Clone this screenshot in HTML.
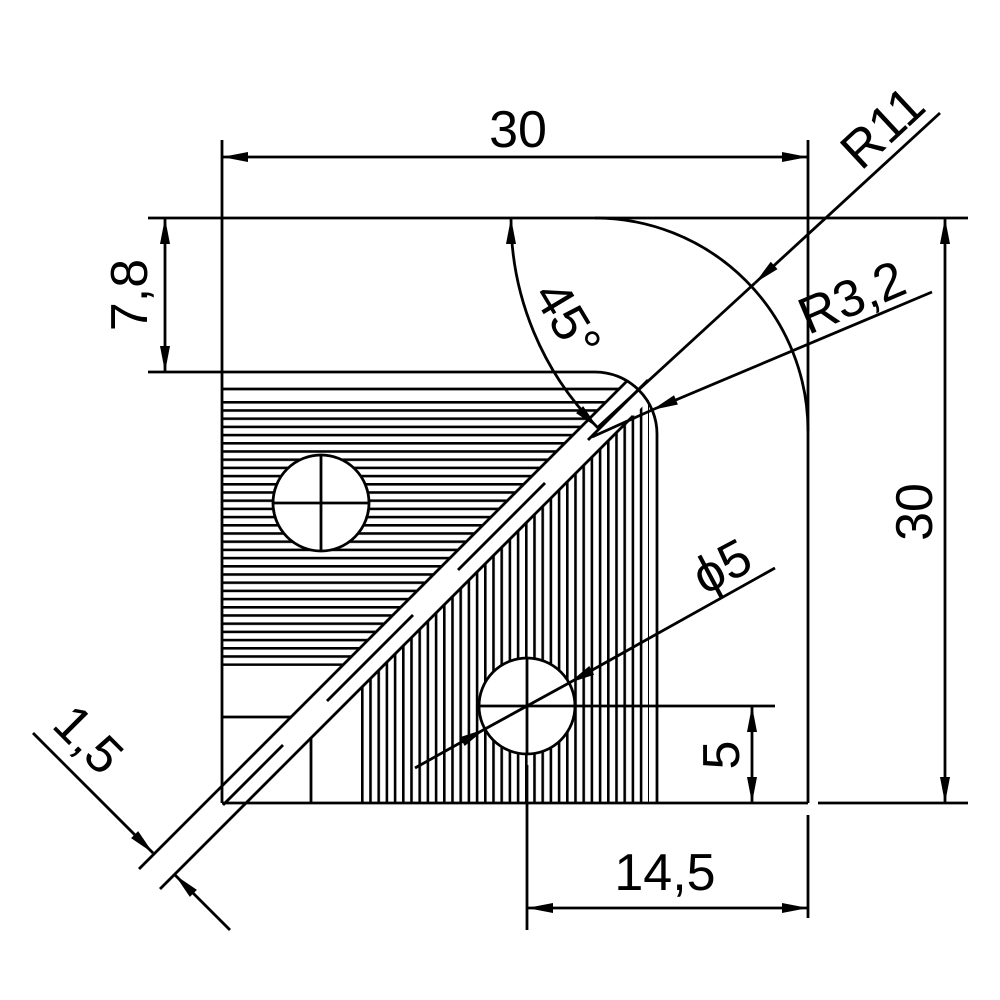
<!DOCTYPE html>
<html><head><meta charset="utf-8"><style>
html,body{margin:0;padding:0;background:#fff}
svg{display:block}
text{font-family:"Liberation Sans",sans-serif;font-size:52px;fill:#000}
</style></head><body>
<svg width="1000" height="1000" viewBox="0 0 1000 1000" xmlns="http://www.w3.org/2000/svg">
<defs>
<marker id="a" markerUnits="userSpaceOnUse" markerWidth="30" markerHeight="14" viewBox="-27 -7 30 14" refX="0" refY="0" orient="auto-start-reverse">
<path d="M0,0 L-26,-5 L-26,5 Z" fill="#000"/>
</marker>
<pattern id="ph" patternUnits="userSpaceOnUse" x="0" y="401" width="1000" height="8.2">
<rect x="0" y="0" width="1000" height="2.6" fill="#000"/>
</pattern>
<pattern id="pv" patternUnits="userSpaceOnUse" x="361" y="0" width="8.2" height="1000">
<rect x="0" y="0" width="2.6" height="1000" fill="#000"/>
</pattern>
</defs>
<polygon points="222,400 608,400 342,666 222,666" fill="url(#ph)"/>
<polygon points="358,691 649,400 649,803 358,803" fill="url(#pv)"/>
<g stroke="#000" stroke-width="2.8" fill="none">
<line x1="222" y1="140" x2="222" y2="803"/>
<line x1="808" y1="140" x2="808" y2="803"/>
<line x1="148" y1="218" x2="968" y2="218"/>
<line x1="148" y1="372" x2="595" y2="372"/>
<line x1="222" y1="803" x2="808" y2="803"/>
<line x1="818" y1="803" x2="968" y2="803"/>
<line x1="808" y1="815" x2="808" y2="918"/>
<line x1="222" y1="389" x2="619" y2="389"/>
<line x1="657" y1="434" x2="657" y2="803"/>
<line x1="222" y1="717" x2="291" y2="717"/>
<line x1="311" y1="737" x2="311" y2="803"/>
<path d="M595,218 A213,213 0 0 1 808,431"/>
<path d="M595,372 A62,62 0 0 1 657,434"/>
<line x1="139" y1="869" x2="627" y2="381"/>
<line x1="160" y1="889" x2="633" y2="416"/>
<line x1="223" y1="805" x2="283" y2="745"/>
<line x1="327" y1="701" x2="413" y2="615"/>
<line x1="458" y1="570" x2="545" y2="483"/>
<line x1="588" y1="440" x2="648" y2="380"/>
<circle cx="321" cy="503" r="48" fill="#fff"/>
<line x1="273" y1="503" x2="369" y2="503"/>
<line x1="321" y1="455" x2="321" y2="551"/>
<circle cx="527" cy="706" r="48" fill="#fff"/>
<line x1="479" y1="706" x2="775" y2="706"/>
<line x1="527" y1="658" x2="527" y2="754"/>
<line x1="527" y1="765" x2="527" y2="930"/>
<line x1="222" y1="157" x2="808" y2="157" marker-start="url(#a)" marker-end="url(#a)"/>
<line x1="165" y1="218" x2="165" y2="372" marker-start="url(#a)" marker-end="url(#a)"/>
<line x1="945" y1="218" x2="945" y2="803" marker-start="url(#a)" marker-end="url(#a)"/>
<line x1="752" y1="706" x2="752" y2="803" marker-start="url(#a)" marker-end="url(#a)"/>
<line x1="527" y1="908" x2="808" y2="908" marker-start="url(#a)" marker-end="url(#a)"/>
<path d="M511,218 A297,297 0 0 0 598,428" marker-start="url(#a)" marker-end="url(#a)"/>
<line x1="940" y1="113" x2="755" y2="283" marker-end="url(#a)"/>
<line x1="755" y1="283" x2="597" y2="428"/>
<line x1="932" y1="292" x2="652" y2="410" marker-end="url(#a)"/>
<line x1="652" y1="410" x2="592" y2="437"/>
<line x1="775" y1="568" x2="569" y2="683" marker-end="url(#a)"/>
<line x1="415" y1="768" x2="485" y2="729" marker-end="url(#a)"/>
<line x1="569" y1="683" x2="485" y2="729"/>
<line x1="33" y1="733" x2="153" y2="853" marker-end="url(#a)"/>
<line x1="230" y1="930" x2="175" y2="875" marker-end="url(#a)"/>
</g>
<g text-anchor="middle" dominant-baseline="central">
<text x="518" y="130">30</text>
<text transform="translate(130,295) rotate(-90)">7,8</text>
<text transform="translate(915,512) rotate(-90)">30</text>
<text x="665" y="873">14,5</text>
<text transform="translate(722,755) rotate(-90)">5</text>
<text transform="translate(722,567) rotate(-28)">ϕ5</text>
<text transform="translate(883,128) rotate(-43)">R11</text>
<text transform="translate(852,298) rotate(-23)">R3,2</text>
<text transform="translate(567,320) rotate(59)">45°</text>
<text transform="translate(88,740) rotate(45)">1,5</text>
</g>
</svg>
</body></html>
